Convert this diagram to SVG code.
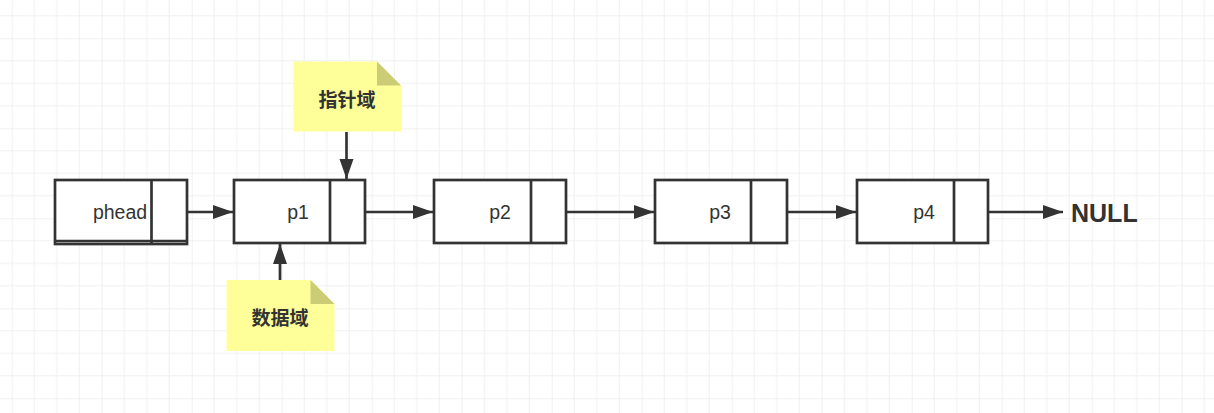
<svg xmlns="http://www.w3.org/2000/svg" width="1214" height="413" viewBox="0 0 1214 413">
  <defs>
    <pattern id="grid" patternUnits="userSpaceOnUse" x="11.7" y="38.3" width="90" height="90">
      <path d="M22.5 0V90M45 0V90M67.5 0V90M0 22.5H90M0 45H90M0 67.5H90" stroke="#f0f0f0" stroke-width="1" fill="none"/>
      <path d="M0 0V90M0 0H90" stroke="#e3e3e3" stroke-width="1" fill="none"/>
    </pattern>
    <marker id="arrow" markerUnits="userSpaceOnUse" markerWidth="22" markerHeight="16" refX="20" refY="8" orient="auto">
      <path d="M0 1L20 8L0 15Z" fill="#333333"/>
    </marker>
    <style>
      .box { fill: #ffffff; stroke: #333333; stroke-width: 2.7; }
      .div { stroke: #333333; stroke-width: 2.7; fill: none; }
      .lbl { font-family: "Liberation Sans", Arial, sans-serif; font-size: 19.5px; fill: #333333; text-anchor: middle; }
      .note { fill: #ffff99; }
      .fold { fill: #cccc77; }
      .ntxt { font-family: "Noto Sans CJK SC", "Noto Sans", sans-serif; font-size: 19px; font-weight: bold; fill: #333333; text-anchor: middle; dominant-baseline: central; }
      .edge { stroke: #333333; stroke-width: 2.7; fill: none; marker-end: url(#arrow); }
    </style>
  </defs>
  <rect x="0" y="0" width="1214" height="413" fill="#ffffff"/>
  <rect x="0" y="0" width="1214" height="413" fill="url(#grid)"/>

  <g id="connectors">
    <line class="edge" x1="187" y1="212" x2="233" y2="212"/>
    <line class="edge" x1="365" y1="212" x2="433" y2="212"/>
    <line class="edge" x1="566" y1="212" x2="654" y2="212"/>
    <line class="edge" x1="787" y1="212" x2="856" y2="212"/>
    <line class="edge" x1="988" y1="212" x2="1063" y2="212"/>
    <line class="edge" x1="346.5" y1="132" x2="346.5" y2="179"/>
    <line class="edge" x1="280" y1="280" x2="280" y2="244"/>
  </g>

  <g id="phead">
    <rect class="box" x="55" y="180" width="132" height="64"/>
    <line class="div" x1="55" y1="241" x2="187" y2="241"/>
    <line class="div" x1="151.5" y1="180" x2="151.5" y2="244"/>
    <text class="lbl" x="120" y="218.5">phead</text>
  </g>

  <g id="p1">
    <rect class="box" x="234" y="180" width="131" height="63"/>
    <line class="div" x1="330" y1="180" x2="330" y2="243"/>
    <text class="lbl" x="298" y="219">p1</text>
  </g>

  <g id="p2">
    <rect class="box" x="434" y="180" width="132" height="63"/>
    <line class="div" x1="531" y1="180" x2="531" y2="243"/>
    <text class="lbl" x="500" y="219">p2</text>
  </g>

  <g id="p3">
    <rect class="box" x="655" y="180" width="132" height="63"/>
    <line class="div" x1="751" y1="180" x2="751" y2="243"/>
    <text class="lbl" x="720" y="219">p3</text>
  </g>

  <g id="p4">
    <rect class="box" x="857" y="180" width="131" height="63"/>
    <line class="div" x1="954" y1="180" x2="954" y2="243"/>
    <text class="lbl" x="924" y="219">p4</text>
  </g>

  <g id="null">
    <text x="1071" y="222" font-family="Liberation Sans, Arial, sans-serif" font-size="25" font-weight="bold" fill="#333333">NULL</text>
  </g>

  <g id="note-pointer">
    <path class="note" d="M293.5 61.5H377L401 85.5V131.5H293.5Z"/>
    <path class="fold" d="M377 61.5L401 85.5H377Z"/>
    <text class="ntxt" x="347" y="98">指针域</text>
  </g>

  <g id="note-data">
    <path class="note" d="M226.5 280H310.5L334.5 304V351H226.5Z"/>
    <path class="fold" d="M310.5 280L334.5 304H310.5Z"/>
    <text class="ntxt" x="280" y="316.5">数据域</text>
  </g>
</svg>
